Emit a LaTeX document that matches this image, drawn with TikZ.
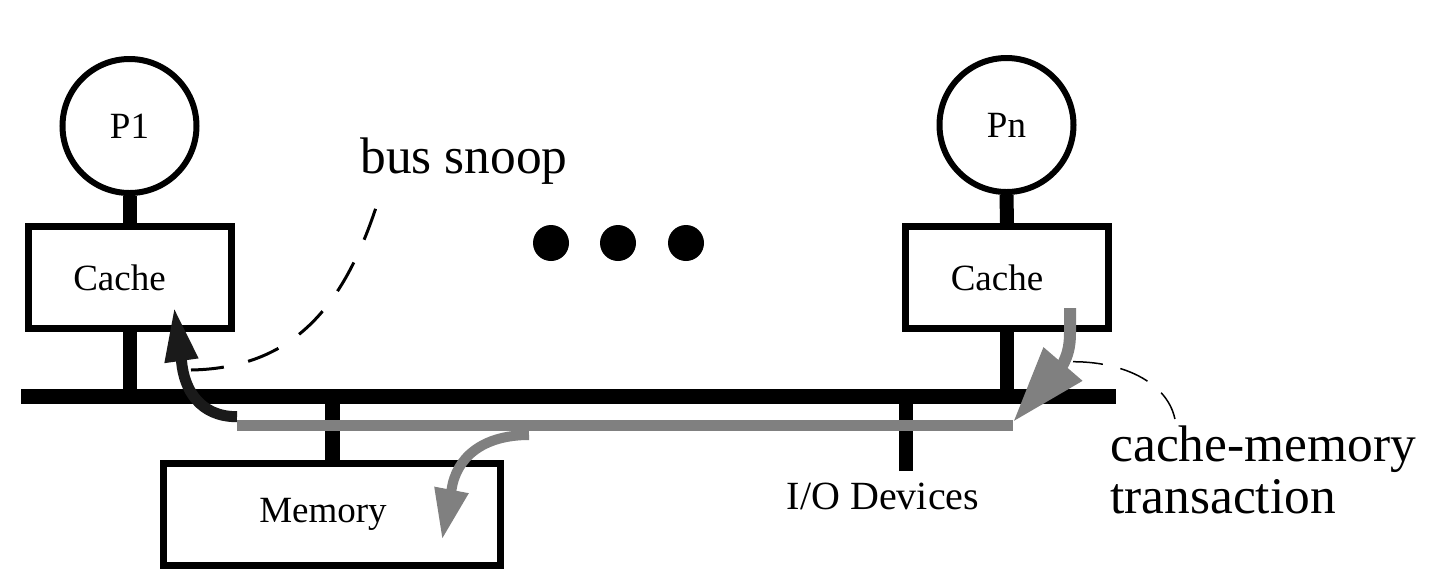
\documentclass[tikz,border=0pt]{standalone}
\usepackage{fontspec}
\setmainfont{Liberation Serif}
\usetikzlibrary{arrows.meta}
\definecolor{flowgray}{HTML}{808080}
\definecolor{snoopblack}{HTML}{1A1A1A}
\begin{document}
\begin{tikzpicture}[x=0.5pt,y=-0.5pt,
  proc/.style={circle,draw,line width=3pt,minimum size=67pt,inner sep=0pt,font=\fontsize{18.5}{22}\selectfont},
  cachebox/.style={rectangle,draw,line width=3.5pt,minimum width=101.5pt,minimum height=51pt,inner sep=0pt,font=\fontsize{18.5}{22}\selectfont},
  stem/.style={line width=7pt},
  busline/.style={line width=7.5pt},
  dotnode/.style={circle,fill,minimum size=18pt,inner sep=0pt},
  biglabel/.style={font=\fontsize{25.7}{25.85}\selectfont,inner sep=0pt},
  smalllabel/.style={font=\fontsize{20}{24}\selectfont,inner sep=0pt},
  flow/.style={draw=flowgray,line width=5.25pt},
  snoopdash/.style={line width=1.5pt,dash pattern=on 16.5pt off 12.5pt},
  thindash/.style={line width=0.75pt,dash pattern=on 15pt off 9pt},
]
\useasboundingbox (0,0) rectangle (1437,586);
% processors and caches
\node[proc] (p1) at (129.5,126) {P1};
\node[proc] (pn) at (1006.5,125) {Pn};
\node[cachebox] (c1) at (129.5,277.5) {Cache\hspace*{10pt}};
\node[cachebox] (cn) at (1007,277.5) {Cache\hspace*{10pt}};
\node[cachebox,minimum width=168.5pt] (mem) at (332,514) {\raisebox{2pt}{Memory}\hspace*{9pt}};
% bus
\coordinate (busL) at (21,396);
\coordinate (busR) at (1116,396);
\coordinate (io) at (906,471);
\draw[stem] (p1.south) -- (c1.north);
\draw[stem] (pn.south) -- (cn.north);
\draw[stem] (c1.south) -- (c1.south |- busL);
\draw[stem] (cn.south) -- (cn.south |- busL);
\draw[stem,line width=7.5pt] (mem.north) -- (mem.north |- busL);
\draw[stem] (io) -- (io |- busL);
\draw[busline] (busL) -- (busR);
\node[smalllabel,anchor=base] (iolabel) at (883,509) {I/O Devices};
% dots
\node[dotnode] (d1) at (551,243) {};
\node[dotnode] (d2) at (618,243) {};
\node[dotnode] (d3) at (686,243) {};
% transaction path
\coordinate (gL) at (237,425.5);
\coordinate (gR) at (1013,425.5);
\draw[flow] (gL) -- (gR);
\coordinate (pnout) at (1070,308);
\draw[draw=flowgray,line width=6pt,-{Triangle[length=38.3pt,width=24pt]}]
  (pnout) -- (1070,333) .. controls (1070,348) and (1067,356) .. (1063,364) -- (1013,422);
\coordinate (memfrom) at (529,435);
\draw[draw=flowgray,line width=5pt,-{Triangle[length=25.5pt,width=16pt]}]
  (memfrom) .. controls (482,435) and (456,458) .. (451.5,490) -- (442,540);
\coordinate (snoopfrom) at (237,416.7);
\draw[draw=snoopblack,line width=5.5pt,-{Triangle[length=27.3pt,width=15.5pt]}]
  (snoopfrom) .. controls (200,416.7) and (184,390) .. (181.5,360.8) -- (174,306.7);
% labels
\node[biglabel,anchor=base west] (snoop) at (360,173) {bus snoop};
\node[biglabel,anchor=base west,align=left] (cmt) at (1110,513.3) {cache-memory\\transaction};
\coordinate (sn1) at (191,370);
\coordinate (sn2) at (383,185);
\draw[snoopdash] (sn1) .. controls (300,368) and (350,298) .. (sn2);
\coordinate (cm1) at (1073,361.7);
\coordinate (cm2) at (1176,430);
\draw[thindash] (cm1) .. controls (1130,361.7) and (1176,388) .. (cm2);
\end{tikzpicture}
\end{document}
